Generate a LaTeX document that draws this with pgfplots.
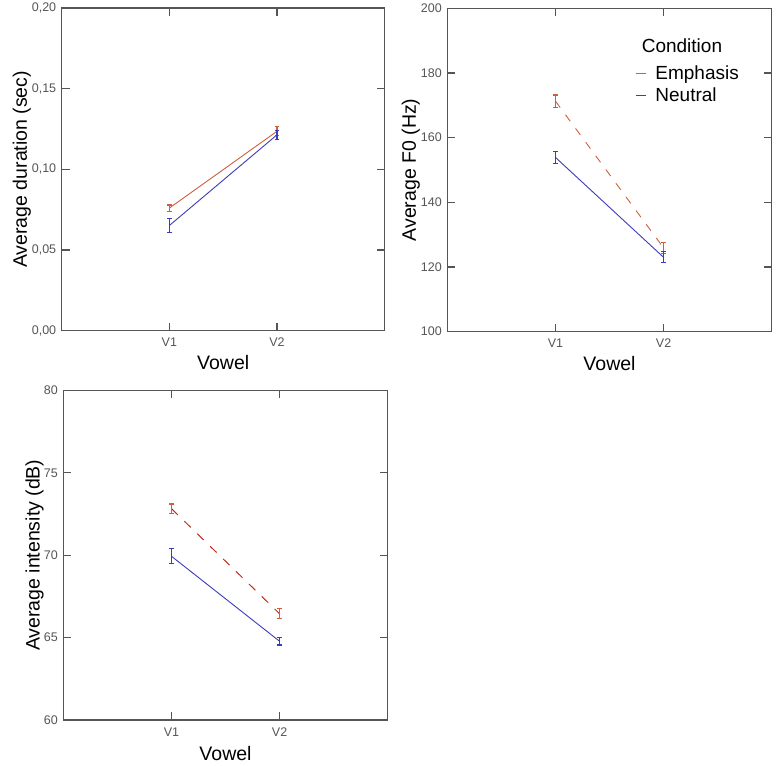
\documentclass[border=0pt]{standalone}
\usepackage{pgfplots}
\pgfplotsset{compat=1.18}
\usepackage{fontspec}
\setmainfont{Liberation Sans}
\definecolor{emph}{RGB}{205,95,60}
\definecolor{emphdark}{RGB}{195,45,25}
\definecolor{neut}{RGB}{60,60,185}
\definecolor{axgray}{RGB}{85,85,85}
\pgfplotsset{
 myax/.style={
  scale only axis,
  anchor=south west,
  xmin=0, xmax=3, xtick={1,2}, xticklabels={V1,V2},
  xtick pos=both, xticklabel pos=bottom,
  ytick pos=both, yticklabel pos=left,
  tick align=inside, major tick length=8pt,
  axis line style={axgray, line width=1.2pt},
  every tick/.style={axgray, line width=1.2pt},
  tick label style={font=\fontsize{12.5}{14}\selectfont, text=axgray},
  xticklabel style={yshift=-4pt},
  yticklabel style={xshift=-2pt},
  label style={font=\fontsize{19.5}{22}\selectfont, inner sep=0pt},
  xlabel=Vowel,
  /pgf/number format/assume math mode=true,
 },
 eb/.style={error bars/y dir=both, error bars/y explicit,
  error bars/error bar style={line width=1.1pt, solid, #1},
  error bars/error mark options={rotate=90, mark size=2.3pt, line width=1.1pt, solid, #1}},
}
\begin{document}
\begin{tikzpicture}
\path[use as bounding box] (0pt,0pt) rectangle (781pt,765pt);
% Plot 1: duration
\begin{axis}[myax, at={(61.7pt,434.3pt)}, width=323pt, height=322.7pt,
  ymin=0, ymax=0.2, ytick={0,0.05,0.1,0.15,0.2},
  yticklabel style={/pgf/number format/.cd, fixed, fixed zerofill, precision=2, use comma},
  scaled y ticks=false,
  ylabel={Average duration (sec)},
  ylabel style={at={(axis description cs:-0.108,0.5)}, anchor=base},
  xlabel style={at={(axis description cs:0.5,-0.119)}, anchor=base}]
\addplot[emph, line width=0.9pt, eb=emph] coordinates {
 (1,0.0760) +- (0,0.0019)
 (2,0.1236) +- (0,0.0027)};
\addplot[neut, line width=0.9pt, eb=neut] coordinates {
 (1,0.0652) +- (0,0.0045)
 (2,0.1214) +- (0,0.0027)};
\end{axis}
% Plot 2: F0
\begin{axis}[myax, at={(447.3pt,433.3pt)}, width=324.4pt, height=323.4pt,
  ymin=100, ymax=200, ytick={100,120,...,200},
  ylabel={Average F0 (Hz)},
  ylabel style={at={(axis description cs:-0.097,0.5)}, anchor=base},
  xlabel style={at={(axis description cs:0.5,-0.1206)}, anchor=base},
  legend style={at={(rel axis cs:0.581,0.829)}, anchor=north west, draw=none, fill=none,
    font=\fontsize{19}{22}\selectfont, row sep=3pt, inner sep=0pt},
  legend cell align=left,
  legend image code/.code={\draw[#1, dash pattern=on 10pt off 10pt] (0pt,0pt) -- (10pt,0pt); \path[draw=none, fill=none] (0pt,0pt) -- (17pt,0pt);}]
\addplot[emph, line width=0.9pt, dash pattern=on 8pt off 9pt, eb=emph] coordinates {
 (1,171.3) +- (0,1.9)
 (2,125.9) +- (0,1.6)};
\addlegendentry{Emphasis}
\addplot[neut, line width=0.9pt, eb=neut] coordinates {
 (1,153.9) +- (0,1.8)
 (2,123.0) +- (0,1.7)};
\addlegendentry{Neutral}
\node[anchor=west, inner sep=0pt, font=\fontsize{19}{22}\selectfont] at (rel axis cs:0.599,0.884) {Condition};
\end{axis}
% Plot 3: intensity
\begin{axis}[myax, at={(63.3pt,45pt)}, width=324.4pt, height=329.5pt,
  ymin=60, ymax=80, ytick={60,65,...,80},
  ylabel={Average intensity (dB)},
  ylabel style={at={(axis description cs:-0.073,0.5)}, anchor=base},
  xlabel style={at={(axis description cs:0.5,-0.1235)}, anchor=base}]
\addplot[emphdark, line width=1pt, dash pattern=on 9pt off 9pt, eb=emph] coordinates {
 (1,72.83) +- (0,0.28)
 (2,66.45) +- (0,0.30)};
\addplot[neut, line width=0.9pt, eb=neut] coordinates {
 (1,69.94) +- (0,0.46)
 (2,64.78) +- (0,0.23)};
\end{axis}
\end{tikzpicture}
\end{document}
